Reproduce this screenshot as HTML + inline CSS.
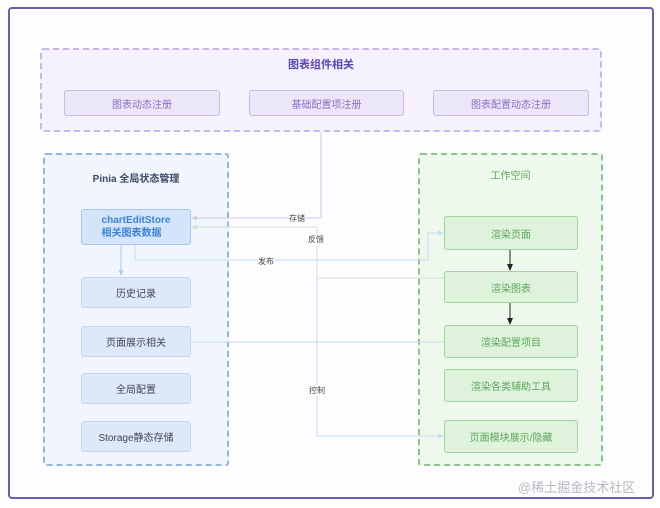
<!DOCTYPE html>
<html><head><meta charset="utf-8"><style>
body{margin:0;width:660px;height:508px;background:#fff;position:relative;font-family:"Liberation Sans","Noto Sans CJK SC",sans-serif;overflow:hidden}
.a{position:absolute;box-sizing:border-box}
.t{display:flex;align-items:center;justify-content:center;font-size:10px;border-radius:3px}
</style></head><body>
<div class="a" style="left:8px;top:7px;width:646px;height:492px;border:2px solid #6a5fb0;border-radius:4px;background:#fdfdff"></div>
<div class="a" style="left:40px;top:48px;width:562px;height:84px;border:2px dashed #c8b8e8;background:#f6f2fd;border-radius:3px"></div>
<div class="a t" style="left:40px;top:56px;width:562px;height:16px;color:#5b46b5;font-weight:bold;font-size:11px">图表组件相关</div>
<div class="a t" style="left:64px;top:90px;width:156px;height:26px;border:1px solid #c6bce0;background:#ebe6f8;color:#8570c8">图表动态注册</div>
<div class="a t" style="left:249px;top:90px;width:155px;height:26px;border:1px solid #c6bce0;background:#ebe6f8;color:#8570c8">基础配置项注册</div>
<div class="a t" style="left:433px;top:90px;width:156px;height:26px;border:1px solid #c6bce0;background:#ebe6f8;color:#8570c8">图表配置动态注册</div>

<div class="a" style="left:43px;top:153px;width:186px;height:313px;border:2px dashed #90b8e4;background:#f1f6fe;border-radius:3px"></div>
<div class="a t" style="left:43px;top:170px;width:186px;height:14px;color:#3c4a66;font-weight:bold">Pinia 全局状态管理</div>
<div class="a t" style="left:81px;top:209px;width:110px;height:36px;border:1px solid #a9c6ec;background:#d4e5fb;color:#3a82d8;font-weight:bold;flex-direction:column;line-height:13px">chartEditStore<br>相关图表数据</div>
<div class="a t" style="left:81px;top:277px;width:110px;height:31px;border:1px solid #c5d6ef;background:#dde8f8;color:#445">历史记录</div>
<div class="a t" style="left:81px;top:326px;width:110px;height:31px;border:1px solid #c5d6ef;background:#dde8f8;color:#445">页面展示相关</div>
<div class="a t" style="left:81px;top:373px;width:110px;height:31px;border:1px solid #c5d6ef;background:#dde8f8;color:#445">全局配置</div>
<div class="a t" style="left:81px;top:421px;width:110px;height:31px;border:1px solid #c5d6ef;background:#dde8f8;color:#445">Storage静态存储</div>

<div class="a" style="left:418px;top:153px;width:185px;height:313px;border:2px dashed #8cc48c;background:#eef8ec;border-radius:3px"></div>
<div class="a t" style="left:418px;top:167px;width:185px;height:14px;color:#5aa85a">工作空间</div>
<div class="a t" style="left:444px;top:216px;width:134px;height:34px;border:1px solid #9fd49f;background:#dff2dc;color:#5aa85a">渲染页面</div>
<div class="a t" style="left:444px;top:271px;width:134px;height:32px;border:1px solid #9fd49f;background:#dff2dc;color:#5aa85a">渲染图表</div>
<div class="a t" style="left:444px;top:325px;width:134px;height:33px;border:1px solid #9fd49f;background:#dff2dc;color:#5aa85a">渲染配置项目</div>
<div class="a t" style="left:444px;top:369px;width:134px;height:33px;border:1px solid #9fd49f;background:#dff2dc;color:#5aa85a">渲染各类辅助工具</div>
<div class="a t" style="left:444px;top:420px;width:134px;height:33px;border:1px solid #9fd49f;background:#dff2dc;color:#5aa85a">页面模块展示/隐藏</div>

<svg class="a" style="left:0;top:0" width="660" height="508">
<g fill="none" stroke-width="1">
<path d="M321 132V218H194" stroke="#d8c6e4"/>
<path d="M444 278H317V227H194" stroke="#cfe4cf"/>
<path d="M135 245V260H428V233H441" stroke="#c8dcef"/>
<path d="M121 245V273" stroke="#a8ccee"/>
<path d="M191 342H444" stroke="#c8dcef"/>
<path d="M317 278V436H441" stroke="#c8dcef"/>
<path d="M510 250V266M510 303V320" stroke="#222"/>
</g>
<polygon points="191,218 197,215.5 197,220.5" fill="#d8c6e4"/>
<polygon points="191,227 197,224.5 197,229.5" fill="#cfe4cf"/>
<polygon points="444,233 438,230.5 438,235.5" fill="#c8dcef"/>
<polygon points="444,436 438,433.5 438,438.5" fill="#c8dcef"/>
<polygon points="121,276 118.5,270 123.5,270" fill="#a8ccee"/>
<polygon points="510,271 507,264 513,264" fill="#222"/>
<polygon points="510,325 507,318 513,318" fill="#222"/>
</svg>
<div class="a" style="left:289px;top:213px;font-size:8px;color:#444;background:#fff">存储</div>
<div class="a" style="left:308px;top:234px;font-size:8px;color:#444;background:#fff">反馈</div>
<div class="a" style="left:258px;top:256px;font-size:8px;color:#444;background:#fff">发布</div>
<div class="a" style="left:309px;top:385px;font-size:8px;color:#444;background:#fff">控制</div>
<div class="a" style="left:518px;top:477px;font-size:13px;color:#b8b8c0">@稀土掘金技术社区</div>
</body></html>
